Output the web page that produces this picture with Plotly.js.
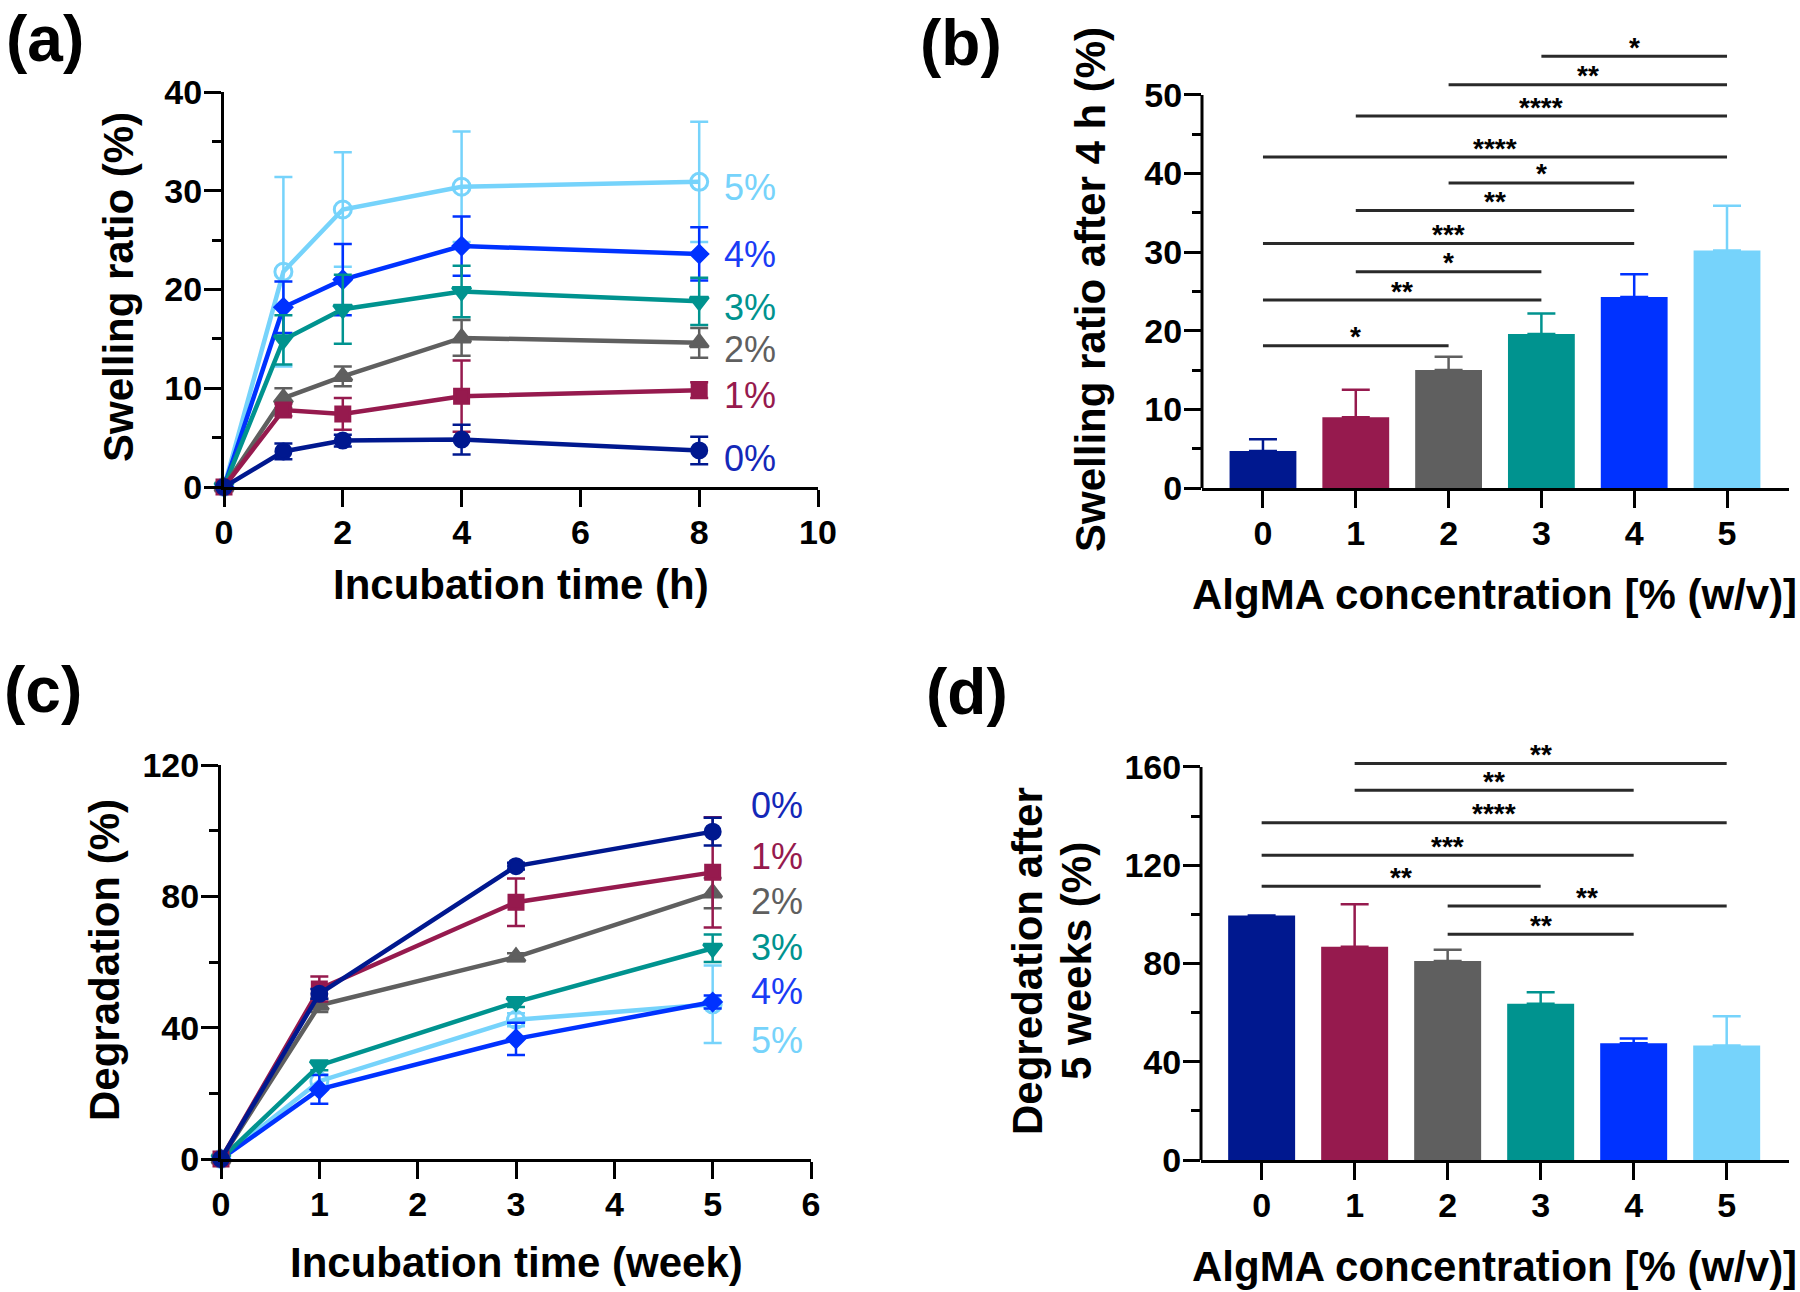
<!DOCTYPE html>
<html><head><meta charset="utf-8">
<script src="https://cdn.plot.ly/plotly-3.0.1.min.js"></script>
<style>html,body{margin:0;padding:0;background:#fff}#chart{width:1800px;height:1292px}</style>
</head><body><div id="chart"></div>
<script>
// ---------------- DATA ----------------
const seriesNames = ['0%', '1%', '2%', '3%', '4%', '5%'];
const concCategories = [0, 1, 2, 3, 4, 5];
const concTickText = ['0', '1', '2', '3', '4', '5'];

// (a) swelling ratio vs incubation time (h)
const swellTime = [0, 1, 2, 4, 8];
const swell0 = [0, 3.6, 4.7, 4.8, 3.7];
const swell1 = [0, 7.8, 7.4, 9.2, 9.8];
const swell2 = [0, 9.0, 11.2, 15.1, 14.6];
const swell3 = [0, 14.9, 18.0, 19.8, 18.8];
const swell4 = [0, 18.2, 21.0, 24.4, 23.6];
const swell5 = [0, 21.8, 28.1, 30.4, 30.9];
const swellErr0 = [0, 0.8, 0.6, 1.5, 1.4];
const swellErr1 = [0, 0.6, 1.6, 3.6, 0.8];
const swellErr2 = [0, 1.0, 1.0, 1.8, 1.5];
const swellErr3 = [0, 2.5, 3.5, 2.6, 2.4];
const swellErr4 = [0, 2.6, 3.6, 3.0, 2.7];
const swellErr5 = [0, 9.6, 5.8, 5.6, 6.1];

// (b) swelling ratio after 4 h
const swell4h = [4.7, 9.0, 15.0, 19.6, 24.3, 30.2];
const swell4hErr = [1.5, 3.5, 1.7, 2.6, 2.9, 5.7];
const swellSigPairs = [[0,2],[0,3],[1,3],[0,4],[1,4],[2,4],[0,5],[1,5],[2,5],[3,5]];
const swellSigHeights = [18.1, 23.9, 27.5, 31.1, 35.3, 38.8, 42.1, 47.3, 51.3, 54.9];
const swellSigLabels = ['*','**','*','***','**','*','****','****','**','*'];

// (c) degradation vs incubation time (week)
const degTime = [0, 1, 3, 5];
const deg0 = [0, 50.3, 89.2, 99.7];
const deg1 = [0, 51.8, 78.2, 87.3];
const deg2 = [0, 46.8, 61.5, 81.0];
const deg3 = [0, 28.5, 47.8, 64.2];
const deg4 = [0, 21.2, 36.6, 47.8];
const deg5 = [0, 23.7, 42.4, 47.1];
const degErr0 = [0, 1.5, 1.0, 4.2];
const degErr1 = [0, 3.8, 7.2, 16.8];
const degErr2 = [0, 2.0, 1.2, 4.6];
const degErr3 = [0, 1.5, 1.5, 4.2];
const degErr4 = [0, 4.4, 4.9, 2.0];
const degErr5 = [0, 2.0, 2.0, 11.8];

// (d) degradation after 5 weeks
const deg5w = [99.5, 86.8, 81.0, 63.6, 47.5, 46.6];
const deg5wErr = [0, 17.3, 4.6, 4.7, 2.0, 11.9];
const degSigPairs = [[2,4],[2,5],[0,3],[0,4],[0,5],[1,4],[1,5]];
const degSigHeights = [91.9, 103.4, 111.4, 124.1, 137.3, 150.5, 161.4];
const degSigLabels = ['**','**','**','***','****','**','**'];

// label positions (y, data units) for the series labels
const swellLabelY = [2.9, 9.3, 13.9, 18.2, 23.5, 30.3];
const degLabelY = [107.8, 92.0, 78.3, 64.3, 50.9, 36.2];

// ---------------- STYLE ----------------
const colors = ['#00188F', '#961A4E', '#5F5F5F', '#00938F', '#0032FF', '#76D3FB'];
const labelColors = ['#1428B8', '#961A4E', '#5F5F5F', '#00938F', '#1A3CF5', '#76D3FB'];
const symbols = ['circle', 'square', 'triangle-up', 'triangle-down', 'diamond', 'circle-open'];
const symSizes = [15, 14, 16, 16, 13, 17];
const FONT = 'Liberation Sans, Arial, Helvetica, sans-serif';
const W = 1800, H = 1292;
const px = v => v / W;
const py = v => 1 - v / H;

const swellY = [swell0, swell1, swell2, swell3, swell4, swell5];
const swellE = [swellErr0, swellErr1, swellErr2, swellErr3, swellErr4, swellErr5];
const degY = [deg0, deg1, deg2, deg3, deg4, deg5];
const degE = [degErr0, degErr1, degErr2, degErr3, degErr4, degErr5];

const traces = [];
function lineTraces(xs, ys, es, xa, ya) {
  for (let i = 5; i >= 0; i--) {
    traces.push({
      type: 'scatter', mode: 'lines+markers', x: xs, y: ys[i],
      xaxis: xa, yaxis: ya, name: seriesNames[i], cliponaxis: false,
      line: {color: colors[i], width: 4.5},
      marker: {symbol: symbols[i], size: symSizes[i], color: colors[i], line: {color: colors[i], width: 3}},
      error_y: {type: 'data', array: es[i], visible: true, color: colors[i], thickness: 2.5, width: 9}
    });
  }
}
lineTraces(swellTime, swellY, swellE, 'x', 'y');
lineTraces(degTime, degY, degE, 'x3', 'y3');

// bar panels
for (let i = 0; i < concCategories.length; i++) {
  traces.push({
    type: 'bar', x: [concCategories[i]], y: [swell4h[i]], width: 0.72,
    xaxis: 'x2', yaxis: 'y2', name: seriesNames[i],
    marker: {color: colors[i], line: {width: 0}},
    error_y: {type: 'data', symmetric: false, array: [swell4hErr[i]], arrayminus: [0], visible: true,
              color: colors[i], thickness: 2.5, width: 14}
  });
  traces.push({
    type: 'bar', x: [concCategories[i]], y: [deg5w[i]], width: 0.72,
    xaxis: 'x4', yaxis: 'y4', name: seriesNames[i],
    marker: {color: colors[i], line: {width: 0}},
    error_y: {type: 'data', symmetric: false, array: [deg5wErr[i]], arrayminus: [0], visible: true,
              color: colors[i], thickness: 2.5, width: 14}
  });
}

function ax(extra) {
  return Object.assign({
    showgrid: false, zeroline: false, showline: true, linecolor: '#000', linewidth: 3,
    ticks: 'outside', ticklen: 17, tickwidth: 3, tickcolor: '#000',
    tickfont: {family: FONT, size: 34, color: '#000', weight: 'bold'},
    fixedrange: true, tickmode: 'array'
  }, extra);
}
function xax(extra) { return ax(Object.assign({ticklabelstandoff: -4}, extra)); }
function yax(extra) { return ax(Object.assign({ticklabelstandoff: -5}, extra)); }
function minor(vals) {
  return {tickmode: 'array', tickvals: vals, ticks: 'outside', ticklen: 9, tickwidth: 3, tickcolor: '#000'};
}

const shapes = [];
const annotations = [];

// y-axis lines of bar panels (stop at top major tick)
shapes.push({type: 'line', xref: 'x2 domain', yref: 'y2', x0: 0, x1: 0, y0: 0, y1: 50, line: {color: '#000', width: 3}});
shapes.push({type: 'line', xref: 'x4 domain', yref: 'y4', x0: 0, x1: 0, y0: 0, y1: 160, line: {color: '#000', width: 3}});

function addSig(pairs, heights, labels, xr, yr) {
  for (let k = 0; k < pairs.length; k++) {
    const [a, b] = pairs[k];
    shapes.push({type: 'line', xref: xr, yref: yr, x0: concCategories[a], x1: concCategories[b],
                 y0: heights[k], y1: heights[k], line: {color: '#2a2a2a', width: 3}});
    annotations.push({xref: xr, yref: yr, x: (concCategories[a] + concCategories[b]) / 2, y: heights[k],
                      text: labels[k], showarrow: false, yanchor: 'middle', yshift: 9,
                      font: {family: FONT, size: 28, color: '#000', weight: 'bold'}});
  }
}
addSig(swellSigPairs, swellSigHeights, swellSigLabels, 'x2', 'y2');
addSig(degSigPairs, degSigHeights, degSigLabels, 'x4', 'y4');

// series labels
for (let i = 0; i < 6; i++) {
  annotations.push({xref: 'x', yref: 'y', x: swellTime[swellTime.length - 1], y: swellLabelY[i], xanchor: 'left', xshift: 23,
                    text: seriesNames[i], showarrow: false, font: {family: FONT, size: 36, color: labelColors[i]}});
  annotations.push({xref: 'x3', yref: 'y3', x: degTime[degTime.length - 1], y: degLabelY[i], xanchor: 'left', xshift: 36,
                    text: seriesNames[i], showarrow: false, font: {family: FONT, size: 36, color: labelColors[i]}});
}

function txt(x, y, text, size, opts) {
  annotations.push(Object.assign({xref: 'paper', yref: 'paper', x: px(x), y: py(y), text: text, showarrow: false,
    xanchor: 'center', yanchor: 'middle', font: {family: FONT, size: size, color: '#000', weight: 'bold'}}, opts || {}));
}
// axis titles
txt(521, 584, 'Incubation time (h)', 42);
txt(118, 287, 'Swelling ratio (%)', 42, {textangle: -90});
txt(1494, 594, 'AlgMA concentration [% (w/v)]', 42);
txt(1090, 290, 'Swelling ratio after 4 h (%)', 42, {textangle: -90});
txt(516, 1262, 'Incubation time (week)', 42);
txt(104, 960, 'Degradation (%)', 42, {textangle: -90});
txt(1494, 1266, 'AlgMA concentration [% (w/v)]', 42);
txt(1027, 961, 'Degredation after', 42, {textangle: -90});
txt(1076, 961, '5 weeks (%)', 42, {textangle: -90});
// panel labels
txt(4, 39, '(a)', 64, {xanchor: 'left'});
txt(918, 43, '(b)', 64, {xanchor: 'left'});
txt(2, 690, '(c)', 64, {xanchor: 'left'});
txt(924, 692, '(d)', 64, {xanchor: 'left'});

const layout = {
  width: W, height: H, margin: {l: 0, r: 0, t: 0, b: 0},
  paper_bgcolor: '#fff', plot_bgcolor: 'rgba(0,0,0,0)', showlegend: false,
  barmode: 'overlay', font: {family: FONT, color: '#000'},
  xaxis: xax({domain: [px(224), px(818)], range: [0, 10], tickvals: [0, 2, 4, 6, 8, 10], anchor: 'y'}),
  yaxis: yax({domain: [py(487), py(92)], range: [0, 40], tickvals: [0, 10, 20, 30, 40], minor: minor([5, 15, 25, 35]), anchor: 'x'}),
  xaxis2: xax({domain: [px(1202), px(1789)], range: [-0.657, 5.668], tickvals: concCategories, ticktext: concTickText, anchor: 'y2'}),
  yaxis2: yax({domain: [py(488), py(32)], range: [0, 58], showline: false, tickvals: [0, 10, 20, 30, 40, 50], minor: minor([5, 15, 25, 35, 45]), anchor: 'x2'}),
  xaxis3: xax({domain: [px(221), px(811)], range: [0, 6], tickvals: [0, 1, 2, 3, 4, 5, 6], anchor: 'y3'}),
  yaxis3: yax({domain: [py(1159), py(765)], range: [0, 120], tickvals: [0, 40, 80, 120], minor: minor([20, 60, 100]), anchor: 'x3'}),
  xaxis4: xax({domain: [px(1201), px(1789)], range: [-0.652, 5.67], tickvals: concCategories, ticktext: concTickText, anchor: 'y4'}),
  yaxis4: yax({domain: [py(1160), py(737.5)], range: [0, 172], showline: false, tickvals: [0, 40, 80, 120, 160], minor: minor([20, 60, 100, 140]), anchor: 'x4'}),
  shapes: shapes,
  annotations: annotations
};

Plotly.newPlot('chart', traces, layout, {staticPlot: true, displayModeBar: false});
</script>
</body></html>
